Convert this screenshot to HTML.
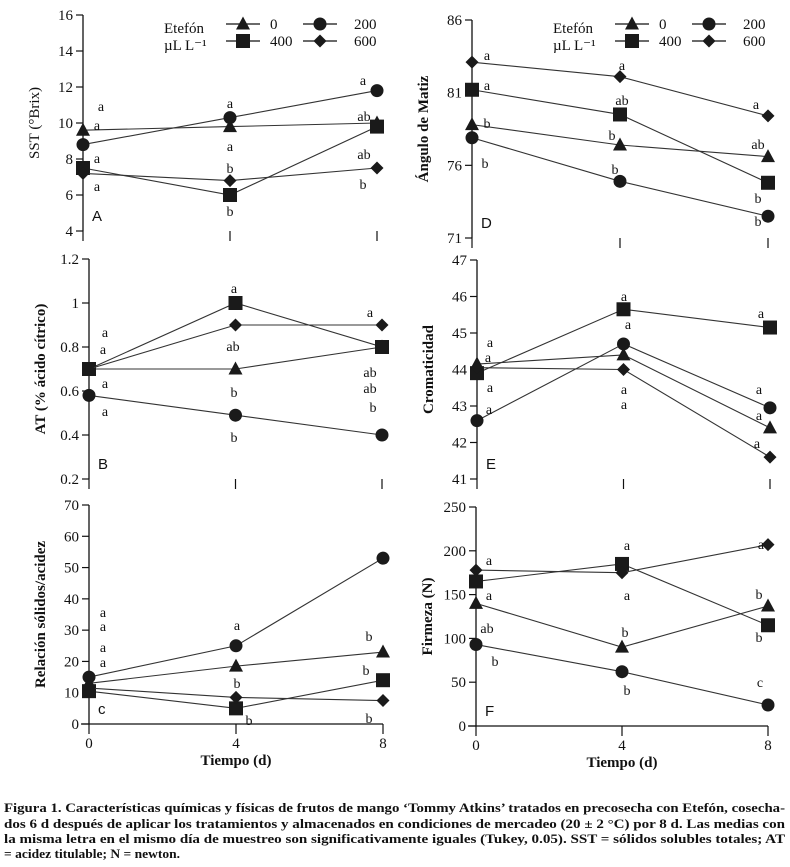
<!DOCTYPE html>
<html><head><meta charset="utf-8"><style>
html,body{margin:0;padding:0;background:#fff;}
svg{display:block;font-family:"Liberation Serif",serif;}
</style></head><body>
<svg id="fig" width="790" height="867" viewBox="0 0 790 867" xmlns="http://www.w3.org/2000/svg"></svg>
<script>
const days = [0, 4, 8];
const seriesNames = ["0", "200", "400", "600"];
const markers = ["tri", "circ", "sq", "dia"];
// Panel A: SST
const aTicks = [4, 6, 8, 10, 12, 14, 16];
const a0 = [9.6, 9.8, 10.0];
const a200 = [8.8, 10.3, 11.8];
const a400 = [7.5, 6.0, 9.8];
const a600 = [7.2, 6.8, 7.5];
// Panel B: AT
const bTicks = [0.2, 0.4, 0.6, 0.8, 1, 1.2];
const b0 = [0.7, 0.7, 0.8];
const b200 = [0.58, 0.49, 0.40];
const b400 = [0.7, 1.0, 0.8];
const b600 = [0.7, 0.9, 0.9];
// Panel C: ratio
const cTicks = [0, 10, 20, 30, 40, 50, 60, 70];
const c0 = [13, 18.5, 23];
const c200 = [15, 25, 53];
const c400 = [10.5, 5, 14];
const c600 = [11.5, 8.5, 7.5];
// Panel D: hue angle
const dTicks = [71, 76, 81, 86];
const d0 = [78.8, 77.4, 76.6];
const d200 = [77.9, 74.9, 72.5];
const d400 = [81.2, 79.5, 74.8];
const d600 = [83.1, 82.1, 79.4];
// Panel E: chroma
const eTicks = [41, 42, 43, 44, 45, 46, 47];
const e0 = [44.15, 44.4, 42.4];
const e200 = [42.6, 44.7, 42.95];
const e400 = [43.9, 45.65, 45.15];
const e600 = [44.05, 44.0, 41.6];
// Panel F: firmness
const fTicks = [0, 50, 100, 150, 200, 250];
const f0 = [140, 90, 137];
const f200 = [93, 62, 24];
const f400 = [165, 185, 115];
const f600 = [178, 175, 207];

const NS = "http://www.w3.org/2000/svg";
const svg = document.getElementById("fig");
function el(tag, attrs, parent) {
  const e = document.createElementNS(NS, tag);
  for (const k in attrs) e.setAttribute(k, attrs[k]);
  (parent || svg).appendChild(e);
  return e;
}
function txt(s, x, y, size, parent, anchor, weight) {
  const t = el("text", {x: x, y: y, "font-size": size, "text-anchor": anchor || "start", "font-weight": weight || "normal", fill: "#111"}, parent);
  t.textContent = s;
  return t;
}
function marker(kind, x, y, g) {
  let m;
  if (kind === "tri") m = el("polygon", {points: `${x},${y-7.5} ${x-7},${y+5.5} ${x+7},${y+5.5}`, fill: "#1a1a1a"}, g);
  else if (kind === "circ") m = el("circle", {cx: x, cy: y, r: 6.5, fill: "#1a1a1a"}, g);
  else if (kind === "sq") m = el("rect", {x: x-7, y: y-7, width: 14, height: 14, fill: "#1a1a1a"}, g);
  else m = el("polygon", {points: `${x},${y-6.5} ${x+6.5},${y} ${x},${y+6.5} ${x-6.5},${y}`, fill: "#1a1a1a"}, g);
  return m;
}

const panels = [
  {id:"a", ax:83, x8:377, yTop:15, yBot:231, ticks:aTicks, series:[a0,a200,a400,a600], label:"A", xaxis:false, ytitle:"SST (°Brix)", titleBold:false, legend:true,
   letters:[["a",101,111],["a",97,130],["a",97,163],["a",97,191],["a",230,108],["a",230,151],["b",230,173],["b",230,216],["a",363,85],["ab",364,121],["ab",364,159],["b",363,189]]},
  {id:"b", ax:89, x8:382, yTop:259, yBot:479, ticks:bTicks, series:[b0,b200,b400,b600], label:"B", xaxis:false, ytitle:"AT (% ácido cítrico)", titleBold:true, legend:false,
   letters:[["a",105,337],["a",103,354],["a",105,388],["a",105,416],["a",234,293],["ab",233,351],["b",234,397],["b",234,442],["a",370,317],["ab",370,377],["ab",370,393],["b",373,412]]},
  {id:"c", ax:89, x8:383, yTop:505, yBot:724, ticks:cTicks, series:[c0,c200,c400,c600], label:"c", xaxis:true, ytitle:"Relación sólidos/acidez", titleBold:true, legend:false,
   letters:[["a",103,617],["a",103,631],["a",103,652],["a",103,667],["a",237,630],["b",237,688],["b",249,725],["b",369,641],["b",366,675],["b",369,723]]},
  {id:"d", ax:472, x8:768, yTop:20, yBot:238, ticks:dTicks, series:[d0,d200,d400,d600], label:"D", xaxis:false, ytitle:"Ángulo de Matiz", titleBold:true, legend:true,
   letters:[["a",487,60],["a",487,90],["b",487,128],["b",485,168],["a",622,70],["ab",622,105],["b",612,140],["b",615,174],["a",756,109],["ab",758,149],["b",758,203],["b",758,226]]},
  {id:"e", ax:477, x8:770, yTop:260, yBot:479, ticks:eTicks, series:[e0,e200,e400,e600], label:"E", xaxis:false, ytitle:"Cromaticidad", titleBold:true, legend:false,
   letters:[["a",490,347],["a",488,362],["a",490,392],["a",489,414],["a",624,301],["a",628,329],["a",624,394],["a",624,409],["a",761,318],["a",759,394],["a",759,420],["a",757,448]]},
  {id:"f", ax:476, x8:768, yTop:507, yBot:726, ticks:fTicks, series:[f0,f200,f400,f600], label:"F", xaxis:true, ytitle:"Firmeza (N)", titleBold:true, legend:false,
   letters:[["a",489,565],["a",489,600],["ab",487,633],["b",495,666],["a",627,550],["a",627,600],["b",625,637],["b",627,695],["a",761,549],["b",759,599],["b",759,642],["c",760,687]]}
];

panels.forEach(p => {
  const g = el("g", {});
  
  
  const tMin = p.ticks[0], tMax = p.ticks[p.ticks.length-1];
  const ys = v => p.yBot - (v - tMin) / (tMax - tMin) * (p.yBot - p.yTop);
  const xs = d => p.ax + d / 8 * (p.x8 - p.ax);
  const yaxis = el("line", {x1:p.ax, y1:p.yTop, x2:p.ax, y2:p.yBot, stroke:"#111", "stroke-width":1.3}, g);
  
  
  p.ticks.forEach(t => {
    el("line", {x1:p.ax-7, y1:ys(t), x2:p.ax, y2:ys(t), stroke:"#111", "stroke-width":1.2}, g);
    const lab = txt(String(t), p.ax-10, ys(t)+5, 15, g, "end");
    
    
  });
  if (p.xaxis) {
    el("line", {x1:p.ax-8, y1:p.yBot, x2:p.x8, y2:p.yBot, stroke:"#111", "stroke-width":1.3}, g);
  }
  days.forEach(d => {
    el("line", {x1:xs(d), y1:p.yBot, x2:xs(d), y2:p.yBot+10, stroke:"#111", "stroke-width":1.2}, g);
    if (p.xaxis) {
      const xl = txt(String(d), xs(d), p.yBot+24, 15, g, "middle");
      
      
    }
  });
  if (p.xaxis) {
    const xt = txt("Tiempo (d)", (p.ax + p.x8)/2, p.yBot+41, 15, g, "middle", "bold");
    
    
  }
  const cy = (p.yTop + p.yBot)/2;
  const tx = p.ax - 44;
  const yt = txt(p.ytitle, tx, cy, 15, g, "middle", p.titleBold ? "bold" : "normal");
  yt.setAttribute("transform", `rotate(-90 ${tx} ${cy})`);
  
  
  p.series.forEach((vals, si) => {
    const sg = el("g", {}, g);
    
    
    const pts = vals.map((v, i) => `${xs(days[i])},${ys(v)}`).join(" ");
    el("polyline", {points: pts, fill:"none", stroke:"#333", "stroke-width":1.1}, sg);
    vals.forEach((v, i) => {
      const m = marker(markers[si], xs(days[i]), ys(v), sg);
      
      
    });
  });
  p.letters.forEach(L => {
    const lt = txt(L[0], L[1], L[2], 14, g, "middle");
    
    
  });
  const pl = el("text", {x: p.ax + 9, y: p.yBot - 10, "font-size": 15, "font-family": "Liberation Sans, sans-serif", fill:"#111"}, g);
  pl.textContent = p.label;
  
  
  if (p.legend) {
    const lg = el("g", {}, g);
    
    
    const lx = p.ax + 81;
    txt("Etefón", lx, 33, 15, lg);
    txt("µL L⁻¹", lx, 50, 15, lg);
    const entries = [[0, 0, "0"], [1, 0, "200"], [2, 1, "400"], [3, 1, "600"]];
    entries.forEach(e => {
      const col = (e[0] === 0 || e[0] === 2) ? 0 : 1;
      const sx = lx + 62 + col * 77;
      const sy = 24 + e[1] * 17;
      const eg = el("g", {}, lg);
      
      
      el("line", {x1:sx, y1:sy, x2:sx+34, y2:sy, stroke:"#111", "stroke-width":1.2}, eg);
      marker(markers[e[0]], sx+17, sy, eg);
      txt(e[2], col === 0 ? sx+44 : sx+51, sy+5, 15, eg);
    });
  }
});

const cap = el("g", {});


const lines = [
  ["Figura 1. Características químicas y físicas de frutos de mango ‘Tommy Atkins’ tratados en precosecha con Etefón, cosecha-", 812, 781],
  ["dos 6 d después de aplicar los tratamientos y almacenados en condiciones de mercadeo (20 ± 2 °C) por 8 d. Las medias con", 828, 781],
  ["la misma letra en el mismo día de muestreo son  significativamente iguales (Tukey, 0.05). SST = sólidos solubles totales; AT", 843, 781],
  ["= acidez titulable; N = newton.", 858, 176]
];
lines.forEach(l => {
  const t = el("text", {x: 4, y: l[1], "font-size": 13, "font-weight": "bold", fill:"#111", textLength: l[2], lengthAdjust: "spacingAndGlyphs"}, cap);
  t.textContent = l[0];
});
</script>
</body></html>
